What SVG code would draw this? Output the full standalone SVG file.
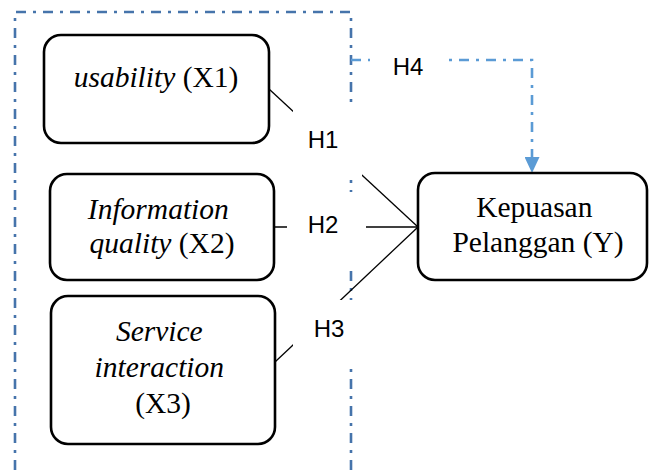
<svg xmlns="http://www.w3.org/2000/svg" width="649" height="470" viewBox="0 0 649 470">
  <defs>
    <marker id="arrowBlue" markerWidth="16" markerHeight="15" refX="16" refY="7.5" orient="auto" markerUnits="userSpaceOnUse" viewBox="0 0 16 15">
      <path d="M0,0 L16,7.5 L0,15 Z" fill="#5B9BD5"/>
    </marker>
    <style>
      .frame { fill: none; stroke: #4674AB; stroke-width: 2.6; stroke-dasharray: 10 7 3 7; }
      .h4 { fill: none; stroke: #5B9BD5; stroke-width: 2.6; stroke-dasharray: 10 7 3 7; }
      .box { fill: #ffffff; stroke: #000000; stroke-width: 2.6; }
      .link { stroke: #000000; stroke-width: 1.3; fill: none; }
      .lblbg { fill: #ffffff; stroke: none; }
      .serif { font-family: "Liberation Serif", "Times New Roman", serif; font-size: 29.5px; fill: #000000; }
      .it { font-style: italic; }
      .lbl { font-family: "Liberation Sans", Arial, sans-serif; font-size: 24px; fill: #000000; }
    </style>
  </defs>

  <rect width="649" height="470" fill="#ffffff"/>

  <!-- dash-dot grouping frame around the independent variables -->
  <g id="frame">
    <path class="frame" d="M15,470 V12 H351 V470"/>
  </g>

  <!-- connectors -->
  <g id="connectors">
    <line class="link" x1="269" y1="89" x2="418" y2="227"/>
    <line class="link" x1="274" y1="227" x2="418" y2="227"/>
    <line class="link" x1="275" y1="362" x2="418" y2="227"/>
    <path class="h4" d="M351,60 H532 V173" marker-end="url(#arrowBlue)"/>
  </g>

  <!-- hypothesis labels on white backing -->
  <g id="label-h1">
    <rect class="lblbg" x="293" y="103" width="69" height="77"/>
    <text class="lbl" x="323" y="148" text-anchor="middle">H1</text>
  </g>
  <g id="label-h2">
    <rect class="lblbg" x="287" y="192" width="79" height="76"/>
    <text class="lbl" x="323" y="233" text-anchor="middle">H2</text>
  </g>
  <g id="label-h3">
    <rect class="lblbg" x="293" y="300" width="67" height="65"/>
    <text class="lbl" x="329" y="337" text-anchor="middle">H3</text>
  </g>
  <g id="label-h4">
    <rect class="lblbg" x="370" y="40" width="75" height="45"/>
    <text class="lbl" x="408" y="75" text-anchor="middle">H4</text>
  </g>

  <!-- variable nodes -->
  <g id="node-x1">
    <rect class="box" x="44" y="35" width="225" height="108" rx="17"/>
    <text class="serif" x="156" y="87" text-anchor="middle"><tspan class="it">usability</tspan> (X1)</text>
  </g>
  <g id="node-x2">
    <rect class="box" x="50" y="174" width="224" height="106" rx="17"/>
    <text class="serif" text-anchor="middle">
      <tspan class="it" x="162" y="219">Information</tspan>
      <tspan x="162" y="253"><tspan class="it">quality</tspan> (X2)</tspan>
    </text>
  </g>
  <g id="node-x3">
    <rect class="box" x="51" y="296" width="224" height="148" rx="17"/>
    <text class="serif" text-anchor="middle">
      <tspan class="it" x="163" y="341">Service</tspan>
      <tspan class="it" x="163" y="377">interaction</tspan>
      <tspan x="163" y="413">(X3)</tspan>
    </text>
  </g>
  <g id="node-y">
    <rect class="box" x="418" y="173" width="229" height="107" rx="17"/>
    <text class="serif" text-anchor="middle">
      <tspan x="538" y="217">Kepuasan</tspan>
      <tspan x="538" y="252">Pelanggan (Y)</tspan>
    </text>
  </g>
</svg>
